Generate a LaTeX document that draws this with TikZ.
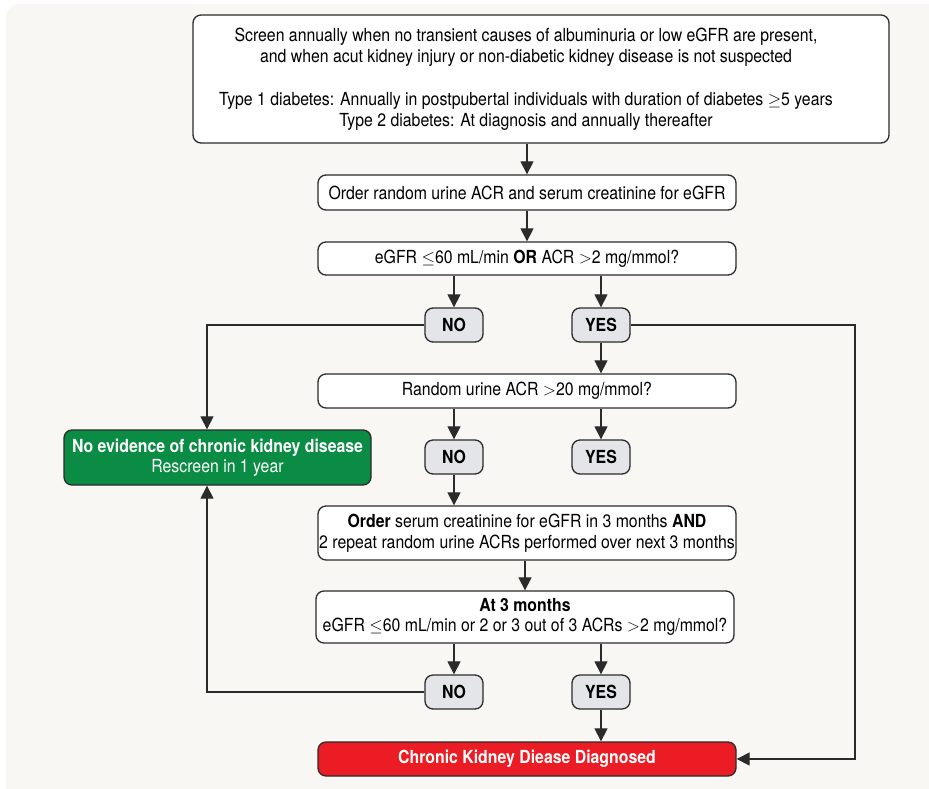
\documentclass[tikz,border=0pt]{standalone}
\usepackage{fontspec}
\setmainfont{TeX Gyre Heros}[FakeStretch=0.88]
\usetikzlibrary{arrows.meta}

\definecolor{paper}{HTML}{F8F7F3}
\definecolor{ink}{HTML}{2B2B2B}
\definecolor{answer}{HTML}{E4E5E8}
\definecolor{okgreen}{HTML}{0B8C45}
\definecolor{ckdred}{HTML}{EC1C24}

\begin{document}
\begin{tikzpicture}[x=1pt,y=-1pt,
    every node/.style={font=\fontsize{18}{20.5}\selectfont},
    box/.style={draw=ink,line width=1.3pt,fill=white,rounded corners=8pt,
      align=center,minimum width=418pt,inner sep=0pt},
    answerbox/.style={draw=ink,line width=1.3pt,fill=answer,rounded corners=8pt,
      minimum width=58pt,minimum height=34pt,inner sep=0pt,font=\fontsize{18}{20}\selectfont\bfseries},
    line/.style={draw=ink,line width=1.2pt},
    arr/.style={line,-{Triangle[length=13pt,width=13pt]}}]
  % set the visible area of the figure
  \useasboundingbox (0,0) rectangle (929,788);
  \clip (0,0) rectangle (929,788);
  \fill [paper,rounded corners=14pt] (6,4) rectangle (960,820);

  % the question boxes down the middle
  \node [box,minimum width=696pt,minimum height=128pt] (screen) at (541,79) {};
  \node [align=center,inner sep=0pt] (screentext) at (526,79)
    {Screen annually when no transient causes of albuminuria or low eGFR are present,\\
     and when acut kidney injury or non-diabetic kidney disease is not suspected\\[23pt]
     Type 1 diabetes: Annually in postpubertal individuals with duration of diabetes $\geq$5 years\\
     Type 2 diabetes: At diagnosis and annually thereafter};
  \node [box,minimum height=35pt] (order) at (527,192.5)
    {Order random urine ACR and serum creatinine for eGFR};
  \node [box,minimum height=33pt] (egfr) at (527,258.5)
    {eGFR $\leq$60 mL/min \textbf{OR} ACR $>$2 mg/mmol?};
  \node [box,minimum height=34pt] (acr) at (527,391)
    {Random urine ACR $>$20 mg/mmol?};
  \node [box,minimum height=54pt] (repeat) at (527,533)
    {\textbf{Order} serum creatinine for eGFR in 3 months \textbf{AND}\\
     2 repeat random urine ACRs performed over next 3 months};
  \node [box,minimum height=52pt] (month3) at (525,617)
    {\textbf{At 3 months}\\
     eGFR $\leq$60 mL/min or 2 or 3 out of 3 ACRs $>$2 mg/mmol?};

  % outcomes
  \node [box,fill=ckdred,text=white,font=\fontsize{18}{20.5}\selectfont\bfseries,
    minimum height=34pt] (ckd) at (527,759) {Chronic Kidney Diease Diagnosed};
  \node [box,fill=okgreen,text=white,minimum width=307pt,minimum height=55pt] (nockd) at (217.5,457.5)
    {\textbf{No evidence of chronic kidney disease}\\Rescreen in 1 year};

  % the NO / YES answers
  \foreach \row/\y in {1/325, 2/457, 3/692} {
    \node [answerbox] (no\row) at (454,\y) {NO};
    \node [answerbox] (yes\row) at (601,\y) {YES};
  }

  % guide lines for the long connectors
  \coordinate (lft) at (207,0);
  \coordinate (rgt) at (855,0);

  % connectors
  \draw [arr] (order.north |- screen.south) -- (order.north);
  \draw [arr] (egfr.north |- order.south) -- (egfr.north);
  \draw [arr] (no1.north |- egfr.south) -- (no1.north);
  \draw [arr] (yes1.north |- egfr.south) -- (yes1.north);
  \draw [arr] (yes1.south) -- (yes1.south |- acr.north);
  \draw [arr] (no2.north |- acr.south) -- (no2.north);
  \draw [arr] (yes2.north |- acr.south) -- (yes2.north);
  \draw [arr] (no2.south) -- (no2.south |- repeat.north);
  \draw [arr] (month3.north |- repeat.south) -- (month3.north);
  \draw [arr] (no3.north |- month3.south) -- (no3.north);
  \draw [arr] (yes3.north |- month3.south) -- (yes3.north);
  \draw [arr] (yes3.south) -- (yes3.south |- ckd.north);
  \draw [arr] (no1.west) -| (lft |- nockd.north);
  \draw [arr] (no3.west) -| (lft |- nockd.south);
  \draw [arr] (yes1.east) -| (rgt |- ckd.east) -- (ckd.east);
\end{tikzpicture}
\end{document}
